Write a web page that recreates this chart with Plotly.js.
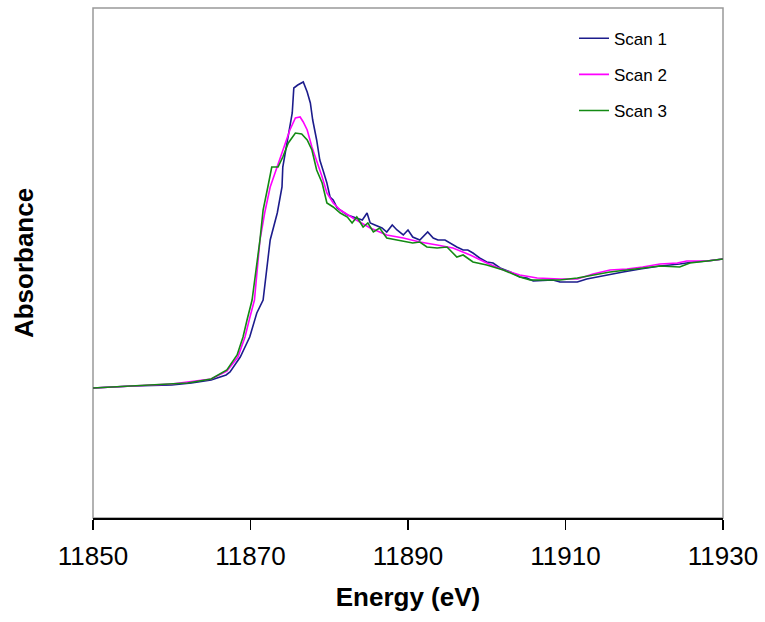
<!DOCTYPE html>
<html>
<head>
<meta charset="utf-8">
<script src="https://cdn.plot.ly/plotly-3.0.1.min.js"></script>
<style>html,body{margin:0;padding:0;background:#fff;}#chart{width:765px;height:622px;}</style>
</head>
<body>
<div id="chart"></div>
<script>
// Energy (eV) and absorbance (arbitrary units)
var scan1Energy = [11850.0, 11855.0, 11860.0, 11862.5, 11865.0, 11866.9, 11867.4, 11868.7, 11869.9, 11870.8, 11871.6, 11872.5, 11873.4, 11874.0, 11874.1, 11874.8, 11875.3, 11875.5, 11876.0, 11876.7, 11877.2, 11877.6, 11877.9, 11878.4, 11878.8, 11879.2, 11879.7, 11880.1, 11880.5, 11880.7, 11881.0, 11882.3, 11883.0, 11884.2, 11884.8, 11885.2, 11885.8, 11886.7, 11887.3, 11888.0, 11888.6, 11889.4, 11890.0, 11890.6, 11891.5, 11892.5, 11893.2, 11893.8, 11894.7, 11895.3, 11896.2, 11897.0, 11897.6, 11898.25, 11899.1, 11900.0, 11900.8, 11901.7, 11903.0, 11904.2, 11905.1, 11905.9, 11908.4, 11909.3, 11911.5, 11912.7, 11914.0, 11915.65, 11917.3, 11919.5, 11922.0, 11924.5, 11926.2, 11928.0, 11930.0];
var scan1Abs = [1.30, 1.32, 1.33, 1.35, 1.38, 1.43, 1.46, 1.61, 1.81, 2.05, 2.18, 2.78, 3.05, 3.31, 3.51, 3.81, 4.05, 4.30, 4.33, 4.36, 4.26, 4.15, 3.98, 3.78, 3.58, 3.48, 3.35, 3.21, 3.18, 3.15, 3.10, 3.03, 3.01, 2.98, 3.05, 2.95, 2.93, 2.90, 2.86, 2.93, 2.88, 2.83, 2.88, 2.81, 2.78, 2.86, 2.80, 2.78, 2.78, 2.75, 2.71, 2.68, 2.68, 2.65, 2.60, 2.56, 2.55, 2.50, 2.46, 2.41, 2.40, 2.37, 2.38, 2.36, 2.36, 2.39, 2.41, 2.44, 2.46, 2.49, 2.52, 2.54, 2.56, 2.57, 2.59];

var scan2Energy = [11850.0, 11855.0, 11860.0, 11865.0, 11867.0, 11868.4, 11869.3, 11869.9, 11870.5, 11871.2, 11871.8, 11872.5, 11873.1, 11873.7, 11874.4, 11875.0, 11875.7, 11876.3, 11876.7, 11877.2, 11877.8, 11878.4, 11879.1, 11879.7, 11880.5, 11881.4, 11883.0, 11885.2, 11887.3, 11889.4, 11891.5, 11893.7, 11895.7, 11897.9, 11900.0, 11902.1, 11904.2, 11906.4, 11909.3, 11911.5, 11913.5, 11915.65, 11917.8, 11919.8, 11922.0, 11924.2, 11925.4, 11928.0, 11930.0];
var scan2Abs = [1.30, 1.32, 1.34, 1.39, 1.47, 1.61, 1.81, 2.00, 2.18, 2.78, 3.05, 3.31, 3.45, 3.58, 3.75, 3.88, 4.00, 4.01, 3.96, 3.88, 3.71, 3.58, 3.41, 3.25, 3.15, 3.08, 3.00, 2.90, 2.83, 2.80, 2.76, 2.73, 2.70, 2.63, 2.55, 2.48, 2.43, 2.40, 2.39, 2.39, 2.44, 2.48, 2.49, 2.51, 2.54, 2.55, 2.57, 2.57, 2.59];

var scan3Energy = [11850.0, 11855.0, 11860.0, 11862.0, 11865.0, 11867.0, 11868.3, 11869.05, 11869.56, 11870.2, 11871.2, 11871.6, 11872.2, 11872.7, 11873.5, 11874.1, 11874.8, 11875.7, 11876.5, 11877.2, 11877.8, 11878.4, 11879.1, 11879.7, 11880.5, 11881.4, 11882.3, 11882.9, 11883.5, 11884.3, 11884.9, 11885.6, 11886.4, 11887.3, 11888.6, 11889.9, 11890.6, 11891.5, 11892.4, 11893.7, 11894.95, 11896.2, 11897.0, 11898.25, 11900.0, 11902.1, 11904.2, 11905.5, 11908.4, 11909.3, 11911.5, 11913.5, 11915.65, 11917.8, 11919.8, 11922.0, 11924.5, 11925.8, 11928.0, 11930.0];
var scan3Abs = [1.30, 1.32, 1.34, 1.35, 1.39, 1.48, 1.63, 1.81, 1.98, 2.18, 2.78, 3.08, 3.31, 3.51, 3.51, 3.61, 3.75, 3.85, 3.84, 3.78, 3.68, 3.48, 3.35, 3.15, 3.11, 3.05, 3.01, 2.95, 3.01, 2.91, 2.95, 2.86, 2.90, 2.80, 2.78, 2.76, 2.75, 2.76, 2.71, 2.70, 2.71, 2.61, 2.63, 2.56, 2.53, 2.48, 2.41, 2.38, 2.38, 2.38, 2.40, 2.43, 2.46, 2.48, 2.50, 2.52, 2.51, 2.55, 2.57, 2.59];

var seriesNames = ['Scan 1', 'Scan 2', 'Scan 3'];
var energyTicks = [11850, 11870, 11890, 11910, 11930];

var colors = ['#1c1c8c', '#ff00ff', '#138a13'];
var xs = [scan1Energy, scan2Energy, scan3Energy];
var ys = [scan1Abs, scan2Abs, scan3Abs];

var data = seriesNames.map(function (n, i) {
  return {
    x: xs[i], y: ys[i], name: n, type: 'scatter', mode: 'lines',
    legendgroup: 'g' + i,
    line: {color: colors[i], width: 1.6}
  };
});

var layout = {
  width: 765, height: 622,
  margin: {l: 93, r: 42, t: 8, b: 104},
  paper_bgcolor: '#ffffff', plot_bgcolor: '#ffffff',
  font: {family: 'Liberation Sans, Arial, sans-serif', color: '#000'},
  showlegend: true,
  legend: {
    x: 0.7635, y: 0.975, xanchor: 'left', yanchor: 'top',
    bgcolor: 'rgba(0,0,0,0)', borderwidth: 0,
    font: {size: 17, color: '#000'},
    traceorder: 'grouped', tracegroupgap: 11
  },
  xaxis: {
    range: [11850, 11930], tickvals: energyTicks, ticktext: energyTicks.map(String),
    showgrid: false, zeroline: false,
    showline: true, linecolor: '#000', linewidth: 1.5,
    ticks: 'outside', ticklen: 10, tickwidth: 1.5, tickcolor: '#000',
    ticklabelstandoff: 4,
    tickfont: {size: 26, color: '#000'},
    title: {text: '<b>Energy (eV)</b>', font: {size: 26, color: '#000'}, standoff: 18}
  },
  yaxis: {
    range: [0, 5.10], showticklabels: false, ticks: '',
    showgrid: false, zeroline: false, showline: false,
    title: {text: '<b>Absorbance</b>', font: {size: 26, color: '#000'}, standoff: 50}
  },
  shapes: [{
    type: 'rect', xref: 'paper', yref: 'paper', x0: 0, x1: 1, y0: 0, y1: 1,
    line: {color: '#999999', width: 1.5}, fillcolor: 'rgba(0,0,0,0)', layer: 'below'
  }]
};

Plotly.newPlot('chart', data, layout, {displayModeBar: false, staticPlot: true});
</script>
</body>
</html>
